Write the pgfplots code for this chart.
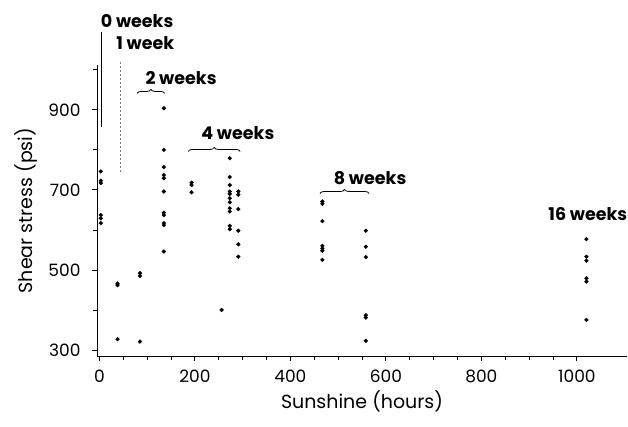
\documentclass[border=0pt]{standalone}
\usepackage{fontspec}
\setmainfont{Poppins}
\usepackage{pgfplots}
\pgfplotsset{compat=1.18}
\usetikzlibrary{decorations.pathreplacing}

\begin{document}
\begin{tikzpicture}
\begin{axis}[
    scale only axis,
    width=530pt, height=291pt,
    xmin=-5, xmax=1105,
    ymin=285, ymax=1012,
    axis x line=bottom, axis y line=left,
    axis line style={-, line width=0.9pt},
    tick align=outside,
    major tick length=5pt, minor tick length=4pt,
    tick style={black, line width=0.8pt},
    xtick={0,200,...,1000}, minor x tick num=3,
    ytick={300,500,700,900}, minor ytick={400,600,800,1000},
    /pgf/number format/assume math mode=true,
    /pgf/number format/set thousands separator={},
    ticklabel style={font=\fontsize{17}{19}\selectfont},
    yticklabel style={xshift=-8pt},
    xticklabel style={yshift=-5pt},
    xlabel={Sunshine (hours)}, ylabel={Shear stress (psi)},
    label style={font=\fontsize{19}{22}\selectfont},
    xlabel style={yshift=-2pt},
    ylabel style={yshift=4pt},
    clip=false,
]
% 0 weeks
\addplot[only marks, mark=*, mark size=1.9pt, black] coordinates {
(3,746)(3,723)(3,717)(3,637)(3,629)(3,617)
};
% 1 week and ~85 h
\addplot[only marks, mark=*, mark size=1.9pt, black] coordinates {
(38,466)(38,462)(38,327)
(85,492)(85,485)(85,321)
};
% 2 weeks
\addplot[only marks, mark=*, mark size=1.9pt, black] coordinates {
(135,904)(135,800)(135,757)(135,737)(135,729)(135,696)
(135,643)(135,637)(135,617)(135,612)(135,546)
};
% 4 weeks
\addplot[only marks, mark=*, mark size=1.9pt, black] coordinates {
(193,718)(193,712)(193,694)
(256,400)
(273,779)(273,732)(273,712)(273,696)(273,690)(273,679)(273,669)
(273,654)(273,646)(273,610)(273,602)
(291,696)(291,688)(291,652)(291,598)(291,564)(291,533)
};
% 8 weeks
\addplot[only marks, mark=*, mark size=1.9pt, black] coordinates {
(467,671)(467,665)(467,622)(467,560)(467,554)(467,548)(467,525)
(558,598)(558,558)(558,532)(558,387)(558,381)(558,323)
};
% 16 weeks
\addplot[only marks, mark=*, mark size=1.9pt, black] coordinates {
(1020,577)(1020,533)(1020,523)(1020,479)(1020,471)(1020,375)
};

% group annotations
\draw[black, line width=0.7pt] (axis cs:4,1095) -- (axis cs:4,857);
\draw[gray, line width=0.8pt, dash pattern=on 2pt off 2pt] (axis cs:43,1020) -- (axis cs:43,745);
\draw[decorate, decoration={brace, amplitude=4pt}, line width=0.8pt] (axis cs:79,941) -- (axis cs:137,941);
\draw[decorate, decoration={brace, amplitude=4pt}, line width=0.8pt] (axis cs:186,796) -- (axis cs:295,796);
\draw[decorate, decoration={brace, amplitude=4pt}, line width=0.8pt] (axis cs:462,691) -- (axis cs:565,691);

\node[font=\fontsize{17.5}{20}\selectfont\bfseries] at (axis cs:79,1122) {0 weeks};
\node[font=\fontsize{17.5}{20}\selectfont\bfseries] at (axis cs:96,1067) {1 week};
\node[font=\fontsize{17.5}{20}\selectfont\bfseries] at (axis cs:171,980) {2 weeks};
\node[font=\fontsize{17.5}{20}\selectfont\bfseries] at (axis cs:290,842) {4 weeks};
\node[font=\fontsize{17.5}{20}\selectfont\bfseries] at (axis cs:567,730) {8 weeks};
\node[font=\fontsize{17.5}{20}\selectfont\bfseries] at (axis cs:1023,640) {16 weeks};
\end{axis}
\pgfresetboundingbox
\useasboundingbox (current axis.south west) ++(-97pt,-71pt) rectangle ++(628pt,427pt);
\end{tikzpicture}
\end{document}
